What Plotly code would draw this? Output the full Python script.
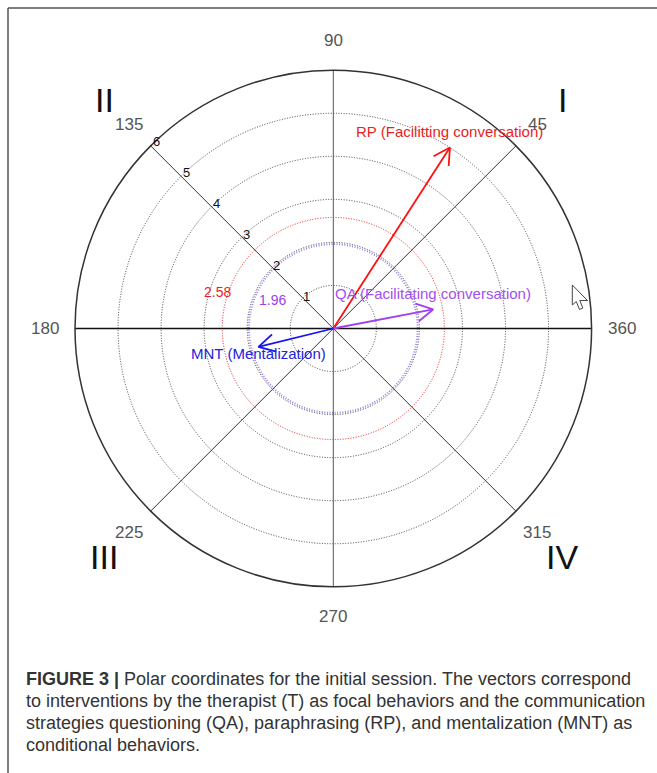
import numpy as np
import plotly.graph_objects as go

# ---------------- data ----------------
vector_names = ["RP (Facilitting conversation)", "QA (Facilitating conversation)", "MNT (Mentalization)"]
vector_lengths = [5.0, 2.36, 1.79]
vector_angles = [57.2, 10.8, 193.8]
vector_colors = ["#ff1010", "#a040f0", "#1515ee"]
label_colors = ["#e81e25", "#a24ff0", "#2323dd"]
label_yshift = [16, 16, -7]

ring_radii = [1, 2, 3, 4, 5]
outer_radius = 6
radial_tick_values = [1, 2, 3, 4, 5, 6]
radial_tick_labels = ["1", "2", "3", "4", "5", "6"]
radial_tick_angle = 135

sig_radii = [1.96, 2.58]
sig_labels = ["1.96", "2.58"]
sig_colors = ["#9c7de6", "#e82020"]

spoke_angles = [0, 45, 90, 135]
angle_labels = [45, 90, 135, 180, 225, 270, 315, 360]
quadrant_labels = ["I", "II", "III", "IV"]
quadrant_angles = [45, 135, 225, 315]

caption_lines = [
    "<b>FIGURE 3 |</b> Polar coordinates for the initial session. The vectors correspond",
    "to interventions by the therapist (T) as focal behaviors and the communication",
    "strategies questioning (QA), paraphrasing (RP), and mentalization (MNT) as",
    "conditional behaviors.",
]

# ---------------- geometry ----------------
W, H = 657, 773
CX, CY = 333.3, 328.5       # centre in px
S = 43.05                   # px per unit
xr = [-CX / S, (W - CX) / S]
yr = [(CY - H) / S, CY / S]


def px2paper(px, py):
    return px / W, 1 - py / H


fig = go.Figure()
shapes = []
annotations = []

# dotted rings
for r in ring_radii:
    shapes.append(dict(type="circle", xref="x", yref="y", x0=-r, x1=r, y0=-r, y1=r,
                       line=dict(color="#444444", width=1, dash="1px,1.6px"), layer="below"))
# significance rings
for r, c in zip(sig_radii, sig_colors):
    w = 2 if r < 2.2 else 1
    shapes.append(dict(type="circle", xref="x", yref="y", x0=-r, x1=r, y0=-r, y1=r,
                       line=dict(color=c, width=w, dash="1px,1.6px"), layer="below"))
# outer circle
shapes.append(dict(type="circle", xref="x", yref="y", x0=-outer_radius, x1=outer_radius,
                   y0=-outer_radius, y1=outer_radius, line=dict(color="#333333", width=1.5)))

# spokes (full diameters)
for a in spoke_angles:
    t = np.deg2rad(a)
    col = "#111111" if a == 0 else ("#555555" if a == 90 else "#333333")
    wid = 1.4 if a == 0 else 1
    fig.add_trace(go.Scatter(x=[-outer_radius * np.cos(t), outer_radius * np.cos(t)],
                             y=[-outer_radius * np.sin(t), outer_radius * np.sin(t)],
                             mode="lines", line=dict(color=col, width=wid),
                             hoverinfo="skip", showlegend=False))

# vectors with open arrowheads
head_len = 0.43
head_ang = np.deg2rad(29)
for name, L, a, c, lc, ys in zip(vector_names, vector_lengths, vector_angles,
                                 vector_colors, label_colors, label_yshift):
    t = np.deg2rad(a)
    tx, ty = L * np.cos(t), L * np.sin(t)
    back = t + np.pi
    a1 = (tx + head_len * np.cos(back + head_ang), ty + head_len * np.sin(back + head_ang))
    a2 = (tx + head_len * np.cos(back - head_ang), ty + head_len * np.sin(back - head_ang))
    fig.add_trace(go.Scatter(x=[0, tx, None, a1[0], tx, a2[0]],
                             y=[0, ty, None, a1[1], ty, a2[1]],
                             mode="lines", line=dict(color=c, width=1.8),
                             hoverinfo="skip", showlegend=False))
    annotations.append(dict(x=tx, y=ty, xref="x", yref="y", text=name, showarrow=False,
                            xanchor="center", yanchor="middle", yshift=ys,
                            font=dict(family="Liberation Sans, Arial", size=15, color=lc)))

# significance labels
sig_shift = {"1.96": (24, 29), "2.58": (-5, 37)}
for r, lab, c in zip(sig_radii, sig_labels, ["#9a3ff0", "#e81e25"]):
    dx, dy = sig_shift[lab]
    annotations.append(dict(x=-r, y=0, xref="x", yref="y", text=lab, showarrow=False,
                            xanchor="center", yanchor="middle", xshift=dx, yshift=dy,
                            font=dict(family="Liberation Sans, Arial", size=14, color=c)))

# radial tick labels along 135 deg
t = np.deg2rad(radial_tick_angle)
for v, lab in zip(radial_tick_values, radial_tick_labels):
    annotations.append(dict(x=v * np.cos(t), y=v * np.sin(t), xref="x", yref="y", text=lab,
                            showarrow=False, xanchor="center", yanchor="middle",
                            xshift=3 + 0.5 * v, yshift=1 + 0.6 * v,
                            font=dict(family="Liberation Sans, Arial", size=13, color="#111111")))

# angle labels
r_lab = 6.7
for a in angle_labels:
    t = np.deg2rad(a)
    annotations.append(dict(x=r_lab * np.cos(t), y=r_lab * np.sin(t), xref="x", yref="y",
                            text=str(a), showarrow=False, xanchor="center", yanchor="middle",
                            font=dict(family="Liberation Sans, Arial", size=17, color="#555555")))

# quadrant labels
r_q = 7.52
for q, a in zip(quadrant_labels, quadrant_angles):
    t = np.deg2rad(a)
    annotations.append(dict(x=r_q * np.cos(t), y=r_q * np.sin(t), xref="x", yref="y",
                            text=q, showarrow=False, xanchor="center", yanchor="middle",
                            font=dict(family="Liberation Sans Narrow, Liberation Sans, Arial",
                                      size=34, color="#111111")))

# caption
base_y = [686.5, 708.5, 730.5, 752.5]
for line, by in zip(caption_lines, base_y):
    px_, py_ = px2paper(24, by)
    annotations.append(dict(x=px_, y=py_, xref="paper", yref="paper", text=line,
                            showarrow=False, xanchor="left", yanchor="bottom", yshift=-4,
                            font=dict(family="Liberation Sans, Arial", size=18, color="#333333")))

# frame (top + left)
x0p, y0p = px2paper(8, 8)
shapes.append(dict(type="line", xref="paper", yref="paper", x0=x0p, y0=y0p, x1=1.01, y1=y0p,
                   line=dict(color="#555555", width=1.5)))
shapes.append(dict(type="line", xref="paper", yref="paper", x0=x0p, y0=y0p, x1=x0p, y1=-0.01,
                   line=dict(color="#555555", width=1.5)))

# mouse cursor glyph
cur = [(572.3, 285), (572.3, 305), (576.3, 301.5), (579.5, 309.5), (582.8, 308),
       (579.8, 300.5), (587.5, 300.5)]
pts = [px2paper(a, b) for a, b in cur]
path = "M " + " L ".join(f"{p[0]:.5f},{p[1]:.5f}" for p in pts) + " Z"
shapes.append(dict(type="path", xref="paper", yref="paper", path=path,
                   line=dict(color="#444444", width=1), fillcolor="white"))

fig.update_layout(
    width=W, height=H, margin=dict(l=0, r=0, t=0, b=0),
    paper_bgcolor="white", plot_bgcolor="white",
    xaxis=dict(range=xr, visible=False, fixedrange=True),
    yaxis=dict(range=yr, visible=False, fixedrange=True),
    shapes=shapes, annotations=annotations, showlegend=False,
)

fig.write_html("out.html", config={"displayModeBar": False},
               post_script="document.body.style.margin='0px';")
